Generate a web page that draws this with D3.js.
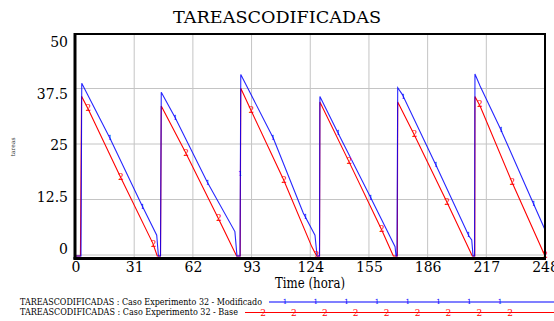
<!DOCTYPE html>
<html>
<head>
<meta charset="UTF-8">
<title>TAREASCODIFICADAS</title>
<script src="https://cdnjs.cloudflare.com/ajax/libs/d3/7.8.5/d3.min.js"></script>
<style>
  body { margin: 0; background: #fff; }
</style>
</head>
<body>
<script>
var width = 554, height = 321;
var serif = "'DejaVu Serif', 'Liberation Serif', serif";

// series: [time (hora), tareas]
var modificado = [
  [0, 0], [2.9, 0], [3.3, 38.9], [18.2, 26.5], [35, 11.5], [42.9, 4.7], [43.8, 0],
  [44.9, 0], [45.3, 36.9], [52.6, 31.2], [69.5, 16.7], [84.2, 5.5], [85.3, 0],
  [86.9, 0], [87.3, 40.9], [104.5, 26.5], [120.3, 9.7], [126.5, 4.7], [127.6, 0],
  [128.9, 0], [129.1, 35.9], [138.8, 27.6], [154.7, 14.2], [168.8, 2.1], [169.3, 0],
  [169.8, 0], [170.2, 37.9], [172.6, 36.4], [190.8, 20.1], [207.8, 4.5], [209.3, 3.6], [210, 0],
  [210.8, 0], [211, 41], [213.7, 38.3], [224.2, 28.9], [241.8, 11.9], [248, 5.9]
];
var base = [
  [0, 0], [2.6, 0], [3.2, 36], [6.8, 33], [23.5, 18], [40.8, 2.9], [43.2, 0],
  [44.9, 0], [45.3, 33.8], [57.8, 23.6], [75.4, 8.5], [85.1, 0],
  [87, 0], [87.3, 37.8], [92.5, 33], [109.8, 17.3], [124.9, 2], [127.4, 0],
  [128.9, 0], [129.1, 34.7], [144.5, 21.2], [161.7, 5.9], [167.9, 0],
  [170, 0], [170.2, 34.7], [178.8, 27.4], [196.1, 12.2], [209.6, 0],
  [210.9, 0], [211, 35.9], [213.7, 33.8], [230.7, 16.5], [248, 0]
];

var xTicks = [0, 31, 62, 93, 124, 155, 186, 217, 248];
var yTicks = [0, 12.5, 25, 37.5, 50];
var yTickLabels = ["0", "12.5", "25", "37.5", "50"];

var titulo = "TAREASCODIFICADAS";
var legendLabels = [
  "TAREASCODIFICADAS : Caso Experimento 32 - Modificado",
  "TAREASCODIFICADAS : Caso Experimento 32 - Base"
];

var blue = "#0000ff", red = "#ff0000", grid = "#c4c4c4";

var svg = d3.select("body").append("svg")
  .attr("width", width)
  .attr("height", height)
  .attr("font-family", serif);

var x = d3.scaleLinear().domain([0, 248]).range([75.5, 545]);
var y = d3.scaleLinear().domain([0, 50]).range([256, 34]);
// Vensim spreads its value labels a bit differently than the grid
var yLab = d3.scaleLinear().domain([0, 50]).range([249, 42]);

// title
svg.append("text")
  .attr("x", 277).attr("y", 23)
  .attr("text-anchor", "middle")
  .attr("font-size", 17)
  .attr("textLength", 208).attr("lengthAdjust", "spacingAndGlyphs")
  .text(titulo);

// grid
svg.append("g").selectAll("line").data(xTicks.slice(1, -1)).enter().append("line")
  .attr("x1", d => x(d)).attr("x2", d => x(d))
  .attr("y1", 34).attr("y2", 258)
  .attr("stroke", grid).attr("stroke-width", 1);
svg.append("g").selectAll("line").data(yTicks.slice(0, -1)).enter().append("line")
  .attr("x1", 75).attr("x2", 545)
  .attr("y1", d => y(d) - 1).attr("y2", d => y(d) - 1)
  .attr("stroke", grid).attr("stroke-width", 1);

// lines
var line = d3.line().x(d => x(d[0])).y(d => y(d[1]));

svg.append("path").datum(base)
  .attr("d", line).attr("fill", "none")
  .attr("stroke", red).attr("stroke-width", 1.1);
svg.append("path").datum(modificado)
  .attr("d", line).attr("fill", "none")
  .attr("stroke", blue).attr("stroke-width", 1.1).attr("stroke-opacity", 0.85);

// markers along the curves
function valueAt(series, t) {
  var i = d3.bisector(d => d[0]).left(series, t);
  if (i <= 0) return series[0][1];
  if (i >= series.length) return series[series.length - 1][1];
  var a = series[i - 1], b = series[i];
  return a[1] + (b[1] - a[1]) * (t - a[0]) / (b[0] - a[0]);
}
var blueMarks = d3.range(0, 14).map(k => 18.2 + 17.22 * k);
var redMarks = d3.range(0, 15).map(k => 248 - 17.23 * k);

svg.append("g").selectAll("text").data(blueMarks).enter().append("text")
  .attr("x", d => x(d)).attr("y", d => y(valueAt(modificado, d)))
  .attr("text-anchor", "middle").attr("dominant-baseline", "central")
  .attr("font-size", 7).attr("fill", blue)
  .text("1");
svg.append("g").selectAll("text").data(redMarks).enter().append("text")
  .attr("x", d => x(d)).attr("y", d => y(valueAt(base, d)) - 1)
  .attr("text-anchor", "middle").attr("dominant-baseline", "central")
  .attr("font-size", 9).attr("fill", red)
  .text("2");

// frame
svg.append("line").attr("x1", 75).attr("x2", 545).attr("y1", 34).attr("y2", 34)
  .attr("stroke", "#000").attr("stroke-width", 2);
svg.append("line").attr("x1", 545).attr("x2", 545).attr("y1", 33).attr("y2", 259)
  .attr("stroke", "#000").attr("stroke-width", 2);
svg.append("line").attr("x1", 75).attr("x2", 75).attr("y1", 33).attr("y2", 259.5)
  .attr("stroke", "#000").attr("stroke-width", 3);
svg.append("line").attr("x1", 73.5).attr("x2", 546).attr("y1", 258.5).attr("y2", 258.5)
  .attr("stroke", "#000").attr("stroke-width", 3);

// axes labels
var xAxis = d3.axisBottom(x).tickValues(xTicks).tickSize(0).tickPadding(0);
var gx = svg.append("g").attr("transform", "translate(0,259)").call(xAxis);
gx.attr("font-family", serif).attr("font-size", 14);
gx.select(".domain").remove();
gx.selectAll("text")
  .attr("y", 13).attr("dy", 0)
  .attr("fill", "#000");

var yAxis = d3.axisLeft(yLab).tickValues(yTicks).tickSize(0).tickPadding(0)
  .tickFormat((d, i) => yTickLabels[i]);
var gy = svg.append("g").attr("transform", "translate(68,0)").call(yAxis);
gy.attr("font-family", serif).attr("font-size", 14);
gy.select(".domain").remove();
gy.selectAll("text").attr("fill", "#000");

svg.append("text")
  .attr("x", 310).attr("y", 288)
  .attr("text-anchor", "middle")
  .attr("font-size", 14)
  .attr("textLength", 70).attr("lengthAdjust", "spacingAndGlyphs")
  .text("Time (hora)");

svg.append("text")
  .attr("transform", "translate(15,147) rotate(-90)")
  .attr("text-anchor", "middle")
  .attr("font-size", 6).attr("fill", "#333")
  .text("tareas");

// legend
var legend = [
  { label: legendLabels[0], color: blue, mark: "1", ty: 304.5, ly: 302, x0: 269, m0: 285, step: 30.7, n: 8, tl: 242, fs: 7 },
  { label: legendLabels[1], color: red, mark: "2", ty: 315, ly: 312.5, x0: 245, m0: 263, step: 30.9, n: 9, tl: 218, fs: 9 }
];
legend.forEach(function (l) {
  svg.append("text")
    .attr("x", 20).attr("y", l.ty)
    .attr("font-size", 8.5)
    .attr("textLength", l.tl).attr("lengthAdjust", "spacingAndGlyphs")
    .text(l.label);
  svg.append("line")
    .attr("x1", l.x0).attr("x2", 554).attr("y1", l.ly).attr("y2", l.ly)
    .attr("stroke", l.color).attr("stroke-width", 1.1);
  svg.append("g").selectAll("text").data(d3.range(l.n)).enter().append("text")
    .attr("x", d => l.m0 + l.step * d).attr("y", l.ly)
    .attr("text-anchor", "middle").attr("dominant-baseline", "central")
    .attr("font-size", l.fs).attr("fill", l.color)
    .text(l.mark);
});
</script>
</body>
</html>
